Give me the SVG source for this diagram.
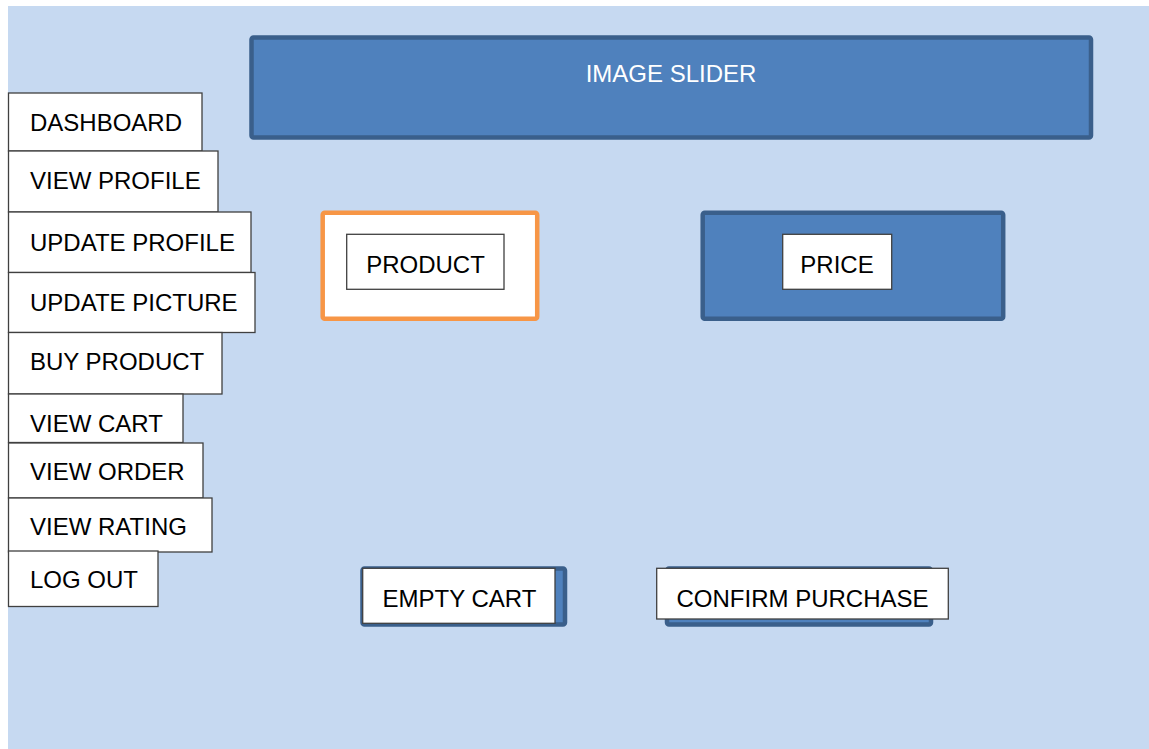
<svg xmlns="http://www.w3.org/2000/svg" width="1149" height="749" viewBox="0 0 1149 749">
<style>
.menu rect{fill:#fff;stroke:#404040;stroke-width:1.3}
text{font-family:"Liberation Sans",Arial,sans-serif;font-size:24px;fill:#000}
.blue{fill:#4F81BD;stroke:#3A5F8B;stroke-width:4.5}
.box{fill:#fff;stroke:#404040;stroke-width:1.3}
</style>
<rect x="0" y="0" width="1149" height="749" fill="#fff"/>
<rect x="8" y="6" width="1141" height="743" fill="#C6D9F1"/>
<g id="image-slider">
<rect class="blue" x="251.5" y="37.5" width="839.5" height="100" rx="2"/>
<text x="671" y="82" text-anchor="middle" style="fill:#fff">IMAGE SLIDER</text>
</g>
<g class="menu">
<g id="dashboard"><rect x="8.5" y="93" width="193.5" height="58"/><text x="30" y="131">DASHBOARD</text></g>
<g id="view-profile"><rect x="8.5" y="151" width="209.5" height="61"/><text x="30" y="189">VIEW PROFILE</text></g>
<g id="update-profile"><rect x="8.5" y="212" width="242.5" height="60.5"/><text x="30" y="251">UPDATE PROFILE</text></g>
<g id="update-picture"><rect x="8.5" y="272.5" width="246.5" height="60"/><text x="30" y="311">UPDATE PICTURE</text></g>
<g id="buy-product"><rect x="8.5" y="332.5" width="213.5" height="61.5"/><text x="30" y="370">BUY PRODUCT</text></g>
<g id="view-cart"><rect x="8.5" y="394" width="174.5" height="48.5"/><text x="30" y="432">VIEW CART</text></g>
<g id="view-order"><rect x="8.5" y="443" width="194.5" height="55"/><text x="30" y="480">VIEW ORDER</text></g>
<g id="view-rating"><rect x="8.5" y="498" width="203.5" height="54"/><text x="30" y="535">VIEW RATING</text></g>
<g id="log-out"><rect x="8.5" y="551" width="149.5" height="55.5"/><text x="30" y="588">LOG OUT</text></g>
</g>
<g id="product">
<rect x="322.7" y="212.7" width="214.5" height="106" rx="2" fill="#fff" stroke="#F79646" stroke-width="4.5"/>
<rect class="box" x="346.7" y="234.3" width="157.3" height="55"/>
<text x="425.5" y="273" text-anchor="middle">PRODUCT</text>
</g>
<g id="price">
<rect class="blue" x="702.7" y="212.7" width="300.5" height="106" rx="2"/>
<rect class="box" x="782.7" y="234.3" width="109" height="55"/>
<text x="837" y="273" text-anchor="middle">PRICE</text>
</g>
<g id="empty-cart">
<rect class="blue" x="362.5" y="568.5" width="202.5" height="56" rx="2"/>
<rect class="box" x="362.7" y="568.3" width="192.3" height="55"/>
<text x="459.5" y="607" text-anchor="middle">EMPTY CART</text>
</g>
<g id="confirm-purchase">
<rect class="blue" x="667" y="568.5" width="264" height="56" rx="2"/>
<rect class="box" x="656.7" y="568.3" width="291.6" height="50.7"/>
<text x="802.5" y="607" text-anchor="middle">CONFIRM PURCHASE</text>
</g>
<g id="connectors"/>
</svg>
